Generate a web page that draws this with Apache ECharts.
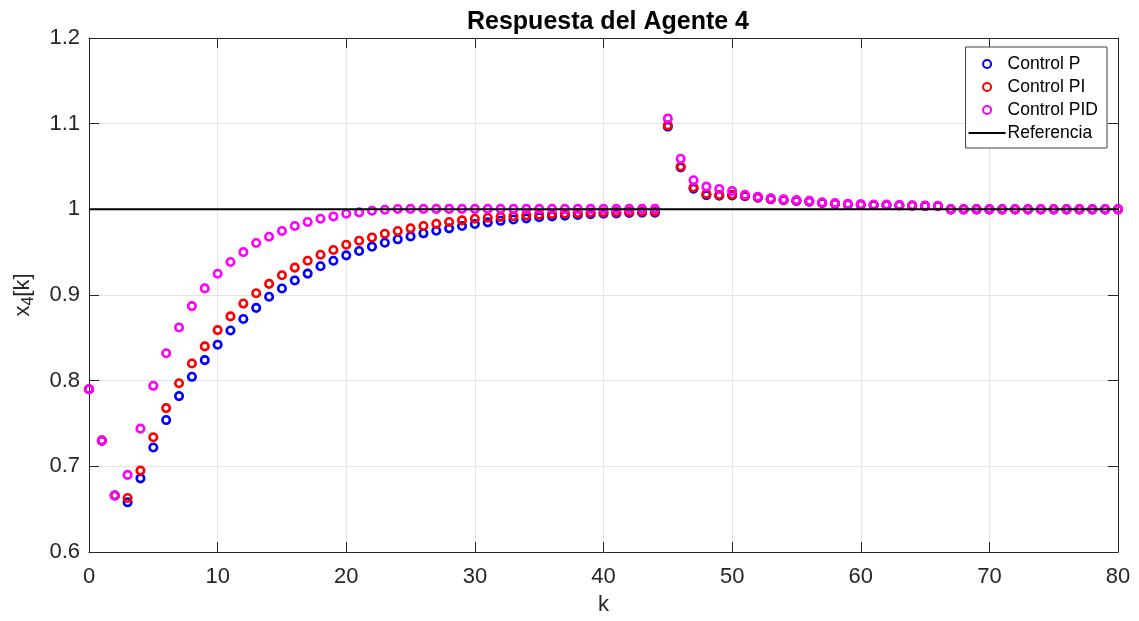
<!DOCTYPE html>
<html>
<head>
<meta charset="utf-8">
<script src="https://cdn.jsdelivr.net/npm/echarts@6/dist/echarts.min.js"></script>
<style>
  html, body { margin: 0; padding: 0; background: #fff; }
  #chart { width: 1139px; height: 621px; }
</style>
</head>
<body>
<div id="chart"></div>
<script>
// Discrete time steps k = 0..80
const steps = Array.from({ length: 81 }, (_, i) => i);

// Agent 4 response under proportional control
const controlP = [
  0.790, 0.730, 0.666, 0.658, 0.686, 0.722, 0.754, 0.782, 0.8045, 0.824,
  0.842, 0.8585, 0.872, 0.885, 0.898, 0.9076, 0.917, 0.925, 0.9335, 0.940,
  0.9463, 0.9513, 0.9564, 0.961, 0.965, 0.9684, 0.972, 0.975, 0.9778, 0.9805,
  0.9829, 0.9848, 0.9866, 0.9882, 0.9895, 0.9907, 0.9918, 0.9927, 0.9935, 0.9942,
  0.9948, 0.9953, 0.9957, 0.9960, 0.9960,
  1.0965, 1.0490, 1.0242, 1.0166, 1.0160, 1.0163, 1.0153, 1.0137, 1.0119, 1.0108,
  1.0098, 1.0090, 1.0074, 1.0065, 1.0057, 1.0053, 1.0049, 1.0049, 1.0045, 1.0042,
  1.0037, 1.0037,
  1.000, 1.000, 1.000, 1.000, 1.000, 1.000, 1.000, 1.000, 1.000, 1.000,
  1.000, 1.000, 1.000, 1.000
];

// Agent 4 response under PI control
const controlPI = [
  0.790, 0.730, 0.666, 0.663, 0.695, 0.734, 0.768, 0.797, 0.820, 0.840,
  0.859, 0.875, 0.890, 0.902, 0.913, 0.923, 0.932, 0.940, 0.947, 0.9525,
  0.9587, 0.9634, 0.9672, 0.9715, 0.9747, 0.9778, 0.9805, 0.9832, 0.9852, 0.9871,
  0.9890, 0.9902, 0.9912, 0.9920, 0.9930, 0.9938, 0.9945, 0.9951, 0.9956, 0.9961,
  0.9965, 0.9968, 0.9970, 0.9972, 0.9974,
  1.0980, 1.0500, 1.0255, 1.0180, 1.0168, 1.0170, 1.0158, 1.0140, 1.0122, 1.0110,
  1.0100, 1.0092, 1.0076, 1.0067, 1.0059, 1.0055, 1.0051, 1.0051, 1.0047, 1.0044,
  1.0039, 1.0039,
  1.000, 1.000, 1.000, 1.000, 1.000, 1.000, 1.000, 1.000, 1.000, 1.000,
  1.000, 1.000, 1.000, 1.000
];

// Agent 4 response under PID control
const controlPID = [
  0.790, 0.730, 0.666, 0.690, 0.744, 0.794, 0.832, 0.862, 0.887, 0.9077,
  0.9248, 0.9385, 0.9500, 0.9607, 0.9680, 0.9747, 0.9805, 0.9852, 0.9890, 0.9917,
  0.9949, 0.9964, 0.9983, 0.9995, 1.0004, 1.0005, 1.0005, 1.0005, 1.0005, 1.0005,
  1.0005, 1.0005, 1.0005, 1.0005, 1.0005, 1.0005, 1.0005, 1.0005, 1.0005, 1.0005,
  1.0005, 1.0005, 1.0005, 1.0005, 1.0005,
  1.1060, 1.0590, 1.0340, 1.0265, 1.0238, 1.0214, 1.0170, 1.0147, 1.0128, 1.0116,
  1.0107, 1.0099, 1.0081, 1.0073, 1.0064, 1.0060, 1.0056, 1.0055, 1.0051, 1.0048,
  1.0043, 1.0042,
  1.000, 1.000, 1.000, 1.000, 1.000, 1.000, 1.000, 1.000, 1.000, 1.000,
  1.000, 1.000, 1.000, 1.000
];

// Reference level and its extent along k
const referenceK = [0, 80];
const referenceValue = [1, 1];

// Axis ticks
const xTicks = [0, 10, 20, 30, 40, 50, 60, 70, 80];
const yTicks = [0.6, 0.7, 0.8, 0.9, 1, 1.1, 1.2];

const AXIS_COLOR = '#262626';
const GRID_COLOR = '#e4e4e4';
const FONT = 'Liberation Sans, Arial, Helvetica, sans-serif';

const pairs = (ys) => steps.map((k, i) => [k, ys[i]]);

function scatterSeries(name, values, color, z) {
  return {
    name,
    type: 'scatter',
    data: pairs(values),
    symbol: 'circle',
    symbolSize: 7.5,
    z,
    itemStyle: { color: 'rgba(0,0,0,0)', borderColor: color, borderWidth: 2.6, opacity: 1 },
    emphasis: { disabled: true }
  };
}

const chart = echarts.init(document.getElementById('chart'), null, { renderer: 'canvas' });

const xCommon = {
  type: 'value',
  min: xTicks[0],
  max: xTicks[xTicks.length - 1],
  interval: 10,
  axisLine: { show: true, onZero: false, lineStyle: { color: AXIS_COLOR, width: 1 } },
  axisTick: { show: true, inside: true, length: 10, lineStyle: { color: AXIS_COLOR, width: 1 } }
};
const yCommon = {
  type: 'value',
  min: yTicks[0],
  max: yTicks[yTicks.length - 1],
  interval: 0.1,
  axisLine: { show: true, onZero: false, lineStyle: { color: AXIS_COLOR, width: 1 } },
  axisTick: { show: true, inside: true, length: 10, lineStyle: { color: AXIS_COLOR, width: 1 } }
};

chart.setOption({
  backgroundColor: '#ffffff',
  animation: false,
  textStyle: { fontFamily: FONT },
  title: {
    text: 'Respuesta del Agente 4',
    left: 603,
    textAlign: 'center',
    top: 5,
    textStyle: { fontFamily: FONT, fontWeight: 'bold', fontSize: 25, color: '#000' }
  },
  grid: { left: 89, right: 21, top: 38, bottom: 68, containLabel: false },
  legend: {
    orient: 'vertical',
    right: 32,
    top: 47,
    padding: [8, 9, 6, 3],
    itemWidth: 37,
    itemHeight: 8,
    itemGap: 5,
    backgroundColor: '#ffffff',
    borderColor: '#404040',
    borderWidth: 1,
    borderRadius: 0,
    textStyle: { fontFamily: FONT, fontSize: 17.5, color: '#000', padding: [0, 0, 0, -3] },
    data: [
      'Control P',
      'Control PI',
      'Control PID',
      { name: 'Referencia', icon: 'path://M0,0 L36,0 L36,2 L0,2 Z', itemStyle: { color: '#000' } }
    ]
  },
  xAxis: [
    Object.assign({}, xCommon, {
      position: 'bottom',
      name: 'k',
      nameLocation: 'middle',
      nameGap: 42,
      nameTextStyle: { fontFamily: FONT, fontSize: 22, color: AXIS_COLOR },
      axisLabel: {
        margin: 14, fontFamily: FONT, fontSize: 22, color: AXIS_COLOR,
        formatter: (v) => (xTicks.includes(v) ? String(v) : '')
      },
      splitLine: { show: true, lineStyle: { color: GRID_COLOR, width: 1 } }
    }),
    Object.assign({}, xCommon, {
      position: 'top',
      axisLabel: { show: false },
      splitLine: { show: false }
    })
  ],
  yAxis: [
    Object.assign({}, yCommon, {
      position: 'left',
      name: '{m|x}{s|4}{m|[k]}',
      nameLocation: 'middle',
      nameGap: 52,
      nameTextStyle: {
        fontFamily: FONT,
        color: AXIS_COLOR,
        rich: {
          m: { fontFamily: FONT, fontSize: 22, color: AXIS_COLOR },
          s: { fontFamily: FONT, fontSize: 16, color: AXIS_COLOR, verticalAlign: 'bottom', padding: [12, 0, 0, 0] }
        }
      },
      axisLabel: {
        margin: 9, fontFamily: FONT, fontSize: 22, color: AXIS_COLOR,
        formatter: (v) => {
          const t = yTicks.find((y) => Math.abs(y - v) < 1e-9);
          return t === undefined ? '' : String(t);
        }
      },
      splitLine: { show: true, lineStyle: { color: GRID_COLOR, width: 1 } }
    }),
    Object.assign({}, yCommon, {
      position: 'right',
      axisLabel: { show: false },
      splitLine: { show: false }
    })
  ],
  series: [
    scatterSeries('Control P', controlP, '#0000ff', 2),
    scatterSeries('Control PI', controlPI, '#ff0000', 3),
    scatterSeries('Control PID', controlPID, '#ff00ff', 4),
    {
      name: 'Referencia',
      type: 'line',
      data: referenceK.map((k, i) => [k, referenceValue[i]]),
      showSymbol: false,
      symbol: 'none',
      z: 5,
      lineStyle: { color: '#000000', width: 2 },
      itemStyle: { color: '#000000' },
      emphasis: { disabled: true }
    }
  ]
});
</script>
</body>
</html>
